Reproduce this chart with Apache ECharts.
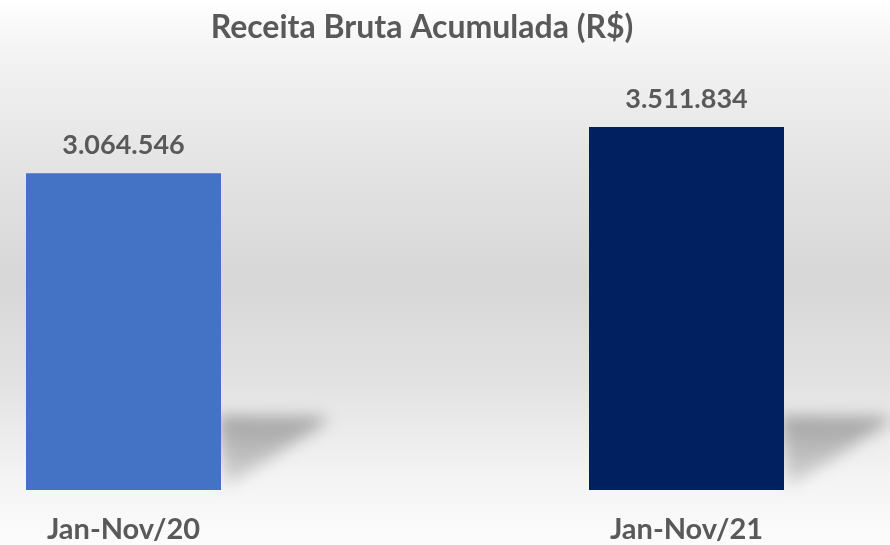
<!DOCTYPE html>
<html><head><meta charset="utf-8">
<script src="https://cdn.jsdelivr.net/npm/echarts@6/dist/echarts.min.js"></script>
<style>html,body{margin:0;padding:0;background:#fff}#c{width:890px;height:545px}</style>
</head><body><div id="c"></div>
<script>
const titleText = 'Receita Bruta Acumulada (R$)';
const categories = ['Jan-Nov/20', 'Jan-Nov/21'];
const values = [3064546, 3511834];
const barColors = ['#4472C4', '#002060'];

const FONT = 'Lato';
const TXT = '#595959';
const BAR_W = 195;
const OFF = 3000;

function fmt(v){ return String(v).replace(/\B(?=(\d{3})+(?!\d))/g, '.'); }

const chart = echarts.init(document.getElementById('c'), null, {renderer:'canvas'});
chart.setOption({
  animation: false,
  backgroundColor: {
    type: 'linear', x: 0, y: 0, x2: 0, y2: 1,
    colorStops: [
      {offset: 0, color: '#ffffff'},
      {offset: 0.1, color: '#f3f3f3'},
      {offset: 0.3, color: '#e4e4e4'},
      {offset: 0.52, color: '#d7d7d7'},
      {offset: 0.7, color: '#e2e2e2'},
      {offset: 0.88, color: '#f4f4f4'},
      {offset: 1, color: '#fcfcfc'}
    ]
  },
  title: {
    text: titleText, left: 417, top: 7, textAlign: 'center',
    textStyle: {fontFamily: FONT, fontWeight: 'bold', fontSize: 32, color: TXT}
  },
  grid: {left: 123.5, right: 203.5, top: 76.5, bottom: 55},
  xAxis: {
    type: 'category', data: categories, boundaryGap: false,
    axisLine: {show: false}, axisTick: {show: false}, splitLine: {show: false},
    axisLabel: {margin: 25, fontFamily: FONT, fontWeight: 'bold', fontSize: 29, color: TXT}
  },
  yAxis: {type: 'value', min: 0, max: 4000000, show: false},
  series: [
    {
      type: 'custom', z: 1, clip: false,
      data: values.map((v, i) => [i, 0]),
      renderItem: function(params, api){
        const p = api.coord([api.value(0), 0]);
        const R = p[0] + BAR_W/2, B = p[1];
        return {
          type: 'polygon',
          shape: {points: [[R-4, B-74-OFF],[R+98, B-73-OFF],[R+108, B-69-OFF],[R+4, B-2-OFF]]},
          style: {
            fill: {type:'linear', x:0, y:0, x2:0, y2:1, colorStops:[
              {offset:0, color:'rgba(0,0,0,1)'},{offset:1, color:'rgba(0,0,0,0.4)'}]},
            shadowBlur: 16, shadowColor: 'rgba(0,0,0,0.3)', shadowOffsetX: 0, shadowOffsetY: OFF
          }
        };
      }
    },
    {
      type: 'bar', z: 3, barWidth: BAR_W,
      data: values.map((v, i) => ({value: v, itemStyle: {color: barColors[i]}})),
      label: {
        show: true, position: 'top', distance: 14,
        fontFamily: FONT, fontWeight: 'bold', fontSize: 27, color: TXT,
        formatter: p => fmt(p.value)
      }
    }
  ]
});
</script></body></html>
